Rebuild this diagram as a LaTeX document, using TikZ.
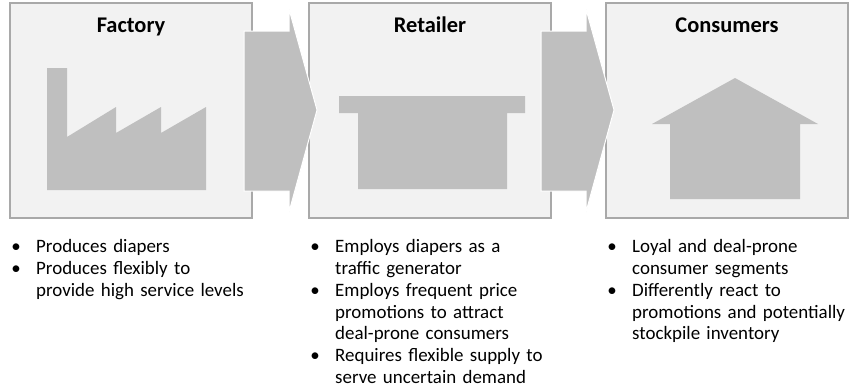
\documentclass[tikz,border=0pt]{standalone}
\usepackage{fontspec}
\setmainfont{Carlito}
\definecolor{panelfill}{HTML}{F2F2F2}
\definecolor{panelline}{HTML}{A9A9A9}
\definecolor{iconfill}{HTML}{BFBFBF}
\newcommand{\pitem}[1]{\par\noindent\hangindent=20bp\hangafter=1%
  \makebox[20bp][l]{\makebox[0pt][c]{\textbullet}}#1\par}
\begin{document}
\begin{tikzpicture}
[x=1bp,y=-1bp,
  paneldecorate/.style={shape=rectangle,draw=panelline,line width=1.3bp,fill=panelfill,
    minimum width=242bp,minimum height=215bp,inner sep=0pt},%
  titledecorate/.style={anchor=base,inner sep=0pt,font=\fontsize{22.5}{26}\selectfont\bfseries},%
  icondecorate/.style={fill=iconfill,draw=none},%
  chevrondecorate/.style={fill=iconfill,draw=white,line width=1bp},%
  listdecorate/.style={anchor=north west,inner sep=0pt,text width=270bp,align=left,
    font=\fontsize{19}{21.8}\selectfont}]
\useasboundingbox (0,0) rectangle (849,389);
% panels
\node (factory) at (131,110.5) [paneldecorate] {};
\node (retailer) at (430,110.5) [paneldecorate] {};
\node (consumers) at (727,110.5) [paneldecorate] {};
\node (factorytitle) at (131,32) [titledecorate] {Factory};
\node (retailertitle) at (430,32) [titledecorate] {Retailer};
\node (consumerstitle) at (727,32) [titledecorate] {Consumers};
% icons
\fill[icondecorate] (47,68) -- (67,68) -- (67,137) -- (116,107) -- (116,133)
  -- (161,107) -- (161,133) -- (206,107) -- (206,190) -- (47,190) -- cycle;
\fill[icondecorate] (339,96) -- (525,96) -- (525,113) -- (507,113) -- (507,189)
  -- (358,189) -- (358,113) -- (339,113) -- cycle;
\fill[icondecorate] (735,78) -- (818,124) -- (800,124) -- (800,199)
  -- (670,199) -- (670,124) -- (652,124) -- cycle;
% arrows between panels
\foreach \x in {244,541}
  \filldraw[chevrondecorate] (\x,31) -- ++(45,0) -- ++(0,-22) -- ++(28,101)
    -- ++(-28,102) -- ++(0,-21) -- ++(-45,0) -- cycle;
% bullet lists
\node (factorylist) at (16,231) [listdecorate] {%
  \pitem{Produces diapers}
  \pitem{Produces flexibly to\newline provide high service levels}};
\node (retailerlist) at (315,231) [listdecorate] {%
  \pitem{Employs diapers as a\newline traffic generator}
  \pitem{Employs frequent price\newline promotions to attract\newline deal-prone consumers}
  \pitem{Requires flexible supply to\newline serve uncertain demand}};
\node (consumerslist) at (612,231) [listdecorate] {%
  \pitem{Loyal and deal-prone\newline consumer segments}
  \pitem{Differently react to\newline promotions and potentially\newline stockpile inventory}};
\end{tikzpicture}
\end{document}
